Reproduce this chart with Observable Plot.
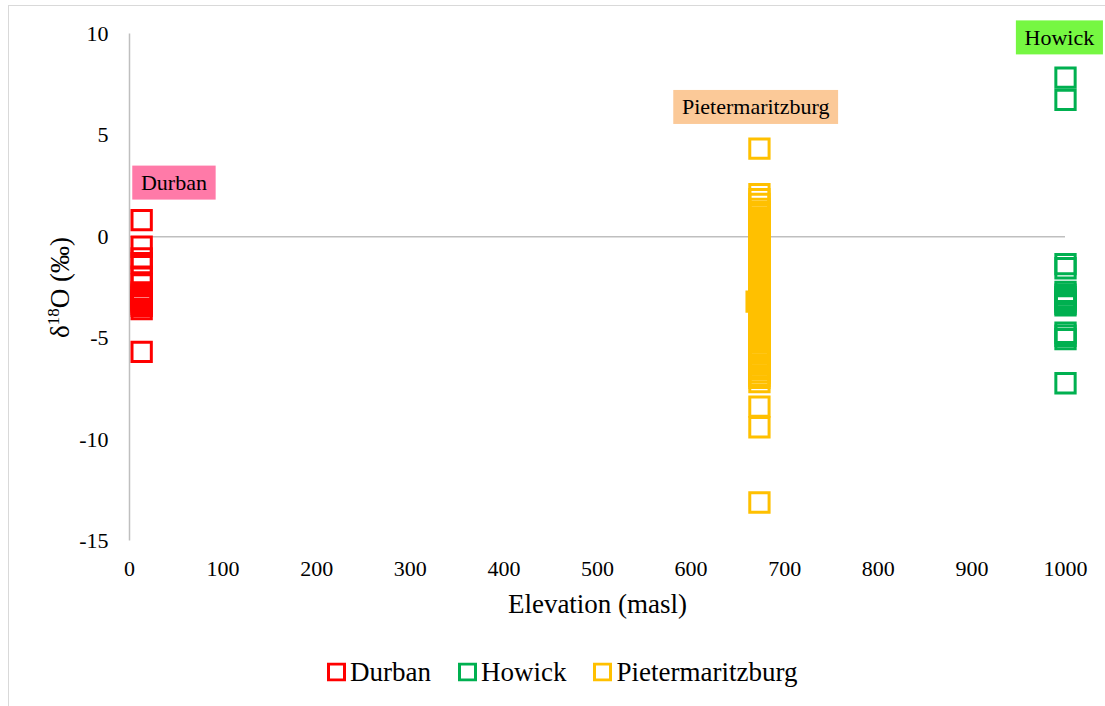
<!DOCTYPE html>
<html>
<head>
<meta charset="utf-8">
<script src="https://cdn.jsdelivr.net/npm/d3@7"></script>
<script src="https://cdn.jsdelivr.net/npm/@observablehq/plot@0.6"></script>
<style>
  body { margin: 0; background: #fff; }
  #figure { position: relative; width: 1105px; height: 706px; overflow: hidden;
            font-family: "Liberation Serif", "Times New Roman", serif; }
  #frame { position: absolute; left: 8px; top: 5px; width: 1200px; height: 800px;
           border: 1.3px solid #d9d9d9; }
  #chart { position: absolute; left: 0; top: 0; }
  #chart svg, #chart text, #chart tspan { font-family: "Liberation Serif", "Times New Roman", serif; }
  #legend { position: absolute; left: 327px; top: 672px; transform: translateY(-50%);
            display: flex; align-items: center; font-size: 27px; color: #000; white-space: nowrap; }
  .item { display: flex; align-items: center; margin-right: 27px; }
  .item svg { margin-right: 4px; }
</style>
</head>
<body>
<div id="figure">
  <div id="frame"></div>
  <div id="chart"></div>
  <div id="legend"></div>
</div>
<script>
// Sampling sites, their elevations (masl) and marker colours
const sites = ["Durban", "Howick", "Pietermaritzburg"];
const siteColors = ["#ff0000", "#00b050", "#ffc000"];
const labelColors = ["#ff7aa8", "#76f742", "#fbc998"];
const durbanElevation = 13;
const howickElevation = 1000;
const pietermaritzburgElevation = 673;

// δ18O (‰) of individual samples
const durbanD18O = [0.82, -0.49, -1.06, -1.3, -1.97, -2.35, -2.74, -2.85, -2.95, -3.05,
  -3.12, -3.2, -3.3, -3.4, -3.57, -5.67];
const howickD18O = [7.85, 6.75, -1.35, -1.55, -2.72, -2.85, -2.98, -3.1, -3.2, -3.3, -3.38,
  -4.73, -4.88, -5.05, -7.22];
const pietermaritzburgD18O = [4.35, 2.1, 1.85, 1.62, 1.38, 1.22, 1.1, 0.95, 0.82, 0.7, 0.55,
  0.46, 0.3, 0.18, 0.05, -0.08, -0.2, -0.33, -0.45, -0.6, -0.7, -0.82, -0.97, -1.1, -1.22,
  -1.35, -1.48, -1.6, -1.75, -1.86, -2.0, -2.12, -2.25, -2.4, -2.5, -2.63, -2.78, -2.9,
  -3.02, -3.15, -3.3, -3.42, -3.55, -3.66, -3.8, -3.95, -4.05, -4.2, -4.32, -4.45, -4.6,
  -4.7, -4.85, -4.97, -5.1, -5.22, -5.38, -5.5, -5.62, -5.75, -5.9, -6.02, -6.15, -6.3,
  -6.42, -6.55, -6.7, -6.85, -6.95, -7.17, -8.37, -9.39, -13.1];
// one Pietermaritzburg sample recorded a little lower down
const pietermaritzburgLowSample = {elevation: 670, d18O: -3.2};

const xTicks = [0, 100, 200, 300, 400, 500, 600, 700, 800, 900, 1000];
const yTicks = [-15, -10, -5, 0, 5, 10];

// site name tags (data coordinates)
const siteLabels = [
  {site: "Durban", elevation: 47.5, d18O: 2.65},
  {site: "Pietermaritzburg", elevation: 669, d18O: 6.38},
  {site: "Howick", elevation: 993.5, d18O: 9.81}
];

const xTitle = "Elevation (masl)";
const yTitle = "δ18O (‰)";

const rows = [
  ...durbanD18O.map(v => ({site: "Durban", elevation: durbanElevation, d18O: v})),
  ...howickD18O.map(v => ({site: "Howick", elevation: howickElevation, d18O: v})),
  ...pietermaritzburgD18O.map(v => ({site: "Pietermaritzburg", elevation: pietermaritzburgElevation, d18O: v})),
  {site: "Pietermaritzburg", ...pietermaritzburgLowSample}
];

const serif = '"Liberation Serif", "Times New Roman", serif';

const plot = Plot.plot({
  width: 1105,
  height: 640,
  marginLeft: 129,
  marginRight: 40,
  marginTop: 33.5,
  marginBottom: 99.5,
  style: {fontFamily: serif, fontSize: "22px", color: "#000", background: "none", overflow: "visible"},
  x: {domain: [0, 1000]},
  y: {domain: [-15, 10]},
  color: {domain: sites, range: siteColors},
  marks: [
    Plot.ruleX([0], {y1: -15, y2: 10, stroke: "#bfbfbf", strokeWidth: 1.5}),
    Plot.ruleY([0], {x1: 0, x2: 1000, stroke: "#bfbfbf", strokeWidth: 1.5}),
    Plot.axisY({ticks: yTicks, tickSize: 0, tickPadding: 21, label: null, fontSize: 22,
                fontFamily: serif, fill: "#000", tickFormat: d => String(d)}),
    Plot.axisX({ticks: xTicks, tickSize: 0, tickPadding: 19, label: null, fontSize: 22,
                fontFamily: serif, fill: "#000", tickFormat: d => String(d)}),
    Plot.dot(rows, {x: "elevation", y: "d18O", stroke: "site", symbol: "square", r: 10.9,
                    strokeWidth: 3, fill: "none"}),
    Plot.text(siteLabels, {x: "elevation", y: "d18O", text: "site", fontSize: 22, fontFamily: serif,
                           fill: "#000", textAnchor: "middle", lineAnchor: "middle"}),
    Plot.text([xTitle], {text: d => d, frameAnchor: "bottom", dy: 63, fontSize: 27, fontFamily: serif,
                         fill: "#000", textAnchor: "middle", lineAnchor: "middle"}),
    Plot.text([yTitle], {text: d => d, frameAnchor: "left", dx: -69, rotate: -90, fontSize: 27,
                         fontFamily: serif, fill: "#000", textAnchor: "middle", lineAnchor: "middle"})
  ]
});

document.getElementById("chart").appendChild(plot);

// coloured tags behind the site names
const svgNS = "http://www.w3.org/2000/svg";
d3.select(plot).selectAll("text")
  .filter(function () { return sites.includes(this.textContent); })
  .each(function () {
    const name = this.textContent;
    const b = this.getBBox();
    const padX = 8.7, padY = 4.5;
    const r = document.createElementNS(svgNS, "rect");
    r.setAttribute("x", b.x - padX);
    r.setAttribute("y", b.y - padY);
    r.setAttribute("width", b.width + 2 * padX);
    r.setAttribute("height", b.height + 2 * padY);
    r.setAttribute("fill", labelColors[sites.indexOf(name)]);
    if (this.getAttribute("transform")) r.setAttribute("transform", this.getAttribute("transform"));
    this.parentNode.insertBefore(r, this);
  });

// superscript mass number in the y-axis title
d3.select(plot).selectAll("text")
  .filter(function () { return this.textContent === yTitle; })
  .each(function () {
    const t = d3.select(this);
    t.text(null);
    t.append("tspan").text("δ");
    t.append("tspan").attr("font-size", 17).attr("dy", -10).text("18");
    t.append("tspan").attr("dy", 10).text("O (‰)");
  });

// legend
const legend = d3.select("#legend");
sites.forEach((s, i) => {
  const item = legend.append("div").attr("class", "item");
  const sw = item.append("svg").attr("width", 19).attr("height", 19);
  sw.append("rect").attr("x", 1.5).attr("y", 1.5).attr("width", 16).attr("height", 16)
    .attr("fill", "none").attr("stroke", siteColors[i]).attr("stroke-width", 3);
  item.append("span").text(s);
});
</script>
</body>
</html>
